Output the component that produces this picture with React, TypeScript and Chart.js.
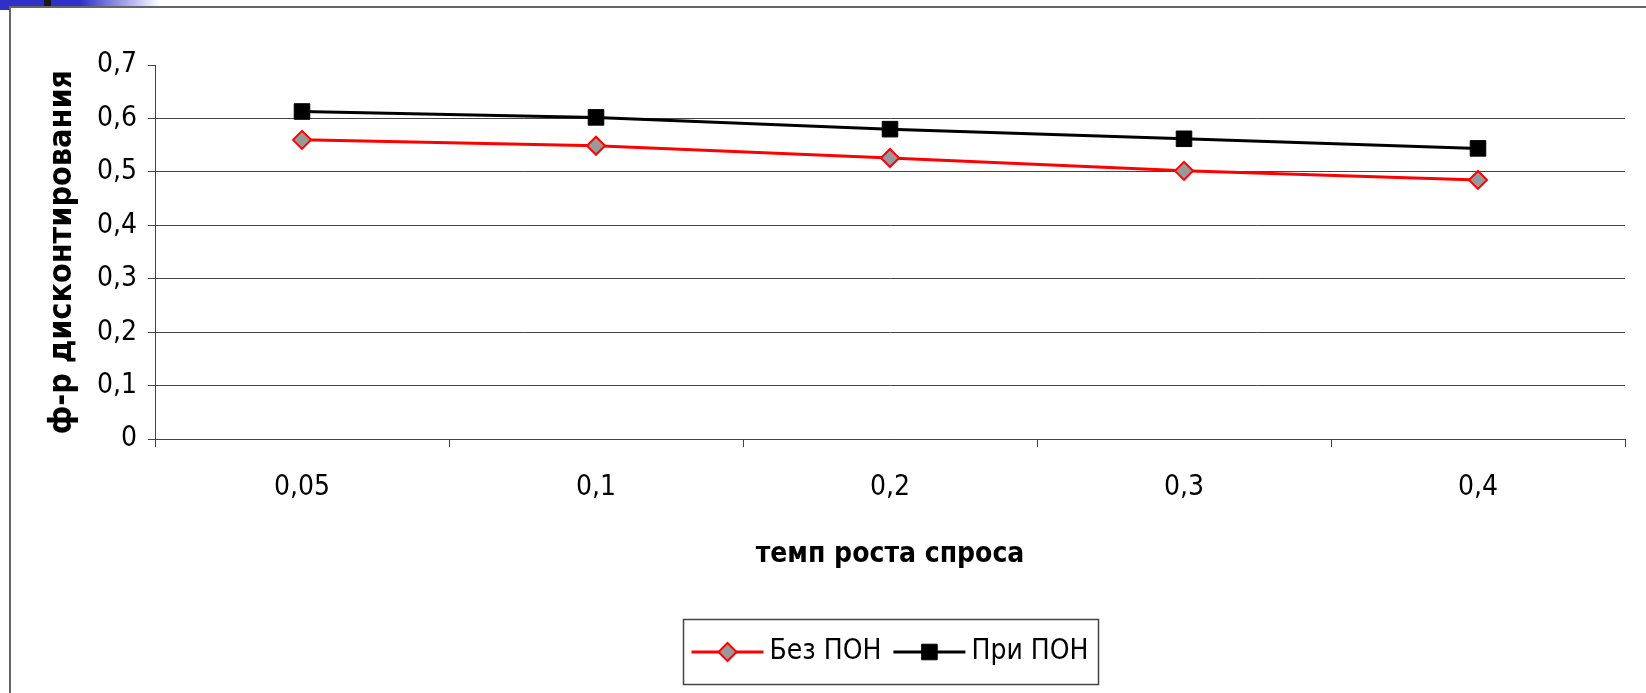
import React, { useEffect, useRef } from 'react';
import { Chart, registerables } from 'chart.js';
import { drawPoint } from 'chart.js/helpers';

Chart.register(...registerables);

// ---- data ----
const categories = ['0,05', '0,1', '0,2', '0,3', '0,4'];
const seriesALabel = 'Без ПОН';
const seriesAValues = [0.56, 0.549, 0.526, 0.502, 0.485];
const seriesBLabel = 'При ПОН';
const seriesBValues = [0.613, 0.602, 0.58, 0.562, 0.544];
const yMin = 0;
const yMax = 0.7;
const yStep = 0.1;
const xAxisTitle = 'темп роста спроса';
const yAxisTitle = 'ф-р дисконтирования';

const FONT = '"DejaVu Sans Condensed", "DejaVu Sans", sans-serif';
const AXIS_COLOR = '#444444';

const fmt = (v: number) => String(Math.round(v * 10) / 10).replace('.', ',');

const legendPlugin = {
  id: 'excelLegend',
  afterDraw(chart: any) {
    const ctx = chart.ctx as CanvasRenderingContext2D;
    const area = chart.chartArea;
    const boxTop = chart.height - 74;
    const boxH = 65;
    const cy = boxTop + 33;
    const lineLen = 72;
    const gapAfterLine = 6;
    const itemGap = 12;
    const padX = 9;
    ctx.save();
    ctx.font = `28px ${FONT}`;
    const items = chart.data.datasets.map((ds: any) => ({ ds, w: ctx.measureText(ds.label).width }));
    let total = padX * 2 + itemGap * (items.length - 1);
    items.forEach((it: any) => (total += lineLen + gapAfterLine + it.w));
    const left = (area.left + area.right) / 2 - total / 2;
    ctx.strokeStyle = '#444444';
    ctx.lineWidth = 1.5;
    ctx.strokeRect(Math.round(left) + 0.5, boxTop + 0.5, Math.round(total), boxH);
    let x = left + padX;
    items.forEach((it: any) => {
      const ds = it.ds;
      ctx.strokeStyle = ds.borderColor;
      ctx.lineWidth = ds.borderWidth;
      ctx.beginPath();
      ctx.moveTo(x, cy);
      ctx.lineTo(x + lineLen, cy);
      ctx.stroke();
      ctx.fillStyle = ds.pointBackgroundColor;
      ctx.strokeStyle = ds.pointBorderColor;
      ctx.lineWidth = ds.pointBorderWidth;
      drawPoint(ctx, { pointStyle: ds.pointStyle, radius: ds.pointRadius, rotation: 0, borderWidth: ds.pointBorderWidth } as any, x + lineLen / 2, cy);
      x += lineLen + gapAfterLine;
      ctx.fillStyle = '#000000';
      ctx.textBaseline = 'middle';
      ctx.textAlign = 'left';
      ctx.fillText(ds.label, x, cy);
      x += it.w + itemGap;
    });
    ctx.restore();
  },
};

export default function App() {
  const canvasRef = useRef<HTMLCanvasElement | null>(null);

  useEffect(() => {
    document.body.style.margin = '0';
    const canvas = canvasRef.current!;
    const chart = new Chart(canvas, {
      type: 'line',
      data: {
        labels: categories,
        datasets: [
          {
            label: seriesALabel,
            data: seriesAValues,
            borderColor: '#ff0000',
            borderWidth: 3,
            pointStyle: 'rectRot',
            pointRadius: 9,
            pointHoverRadius: 9,
            pointBackgroundColor: '#999999',
            pointBorderColor: '#ff0000',
            pointBorderWidth: 2,
            tension: 0,
            clip: false,
          } as any,
          {
            label: seriesBLabel,
            data: seriesBValues,
            borderColor: '#000000',
            borderWidth: 3,
            pointStyle: 'rect',
            pointRadius: 11,
            pointHoverRadius: 11,
            pointBackgroundColor: '#000000',
            pointBorderColor: '#000000',
            pointBorderWidth: 1,
            tension: 0,
            clip: false,
          } as any,
        ],
      },
      options: {
        responsive: false,
        animation: false,
        devicePixelRatio: 1,
        layout: { padding: { left: 10, top: 65, right: 21, bottom: 121 } },
        plugins: {
          legend: { display: false },
          tooltip: { enabled: false },
          title: { display: false },
        },
        scales: {
          x: {
            type: 'category',
            offset: true,
            grid: {
              offset: true,
              drawOnChartArea: false,
              drawTicks: true,
              tickLength: 8,
              color: AXIS_COLOR,
              tickColor: AXIS_COLOR,
              lineWidth: 1,
            },
            border: { display: true, color: AXIS_COLOR, width: 1 },
            ticks: {
              color: '#000000',
              font: { family: FONT, size: 28 },
              padding: 24,
              maxRotation: 0,
              autoSkip: false,
            },
            title: {
              display: true,
              text: xAxisTitle,
              color: '#000000',
              font: { family: FONT, size: 28, weight: 'bold' },
              padding: { top: 0, bottom: 0 },
            },
            afterFit(scale: any) {
              scale.height = 132.8;
              scale.paddingLeft = 0;
              scale.paddingRight = 0;
            },
          },
          y: {
            min: yMin,
            max: yMax,
            grid: {
              drawTicks: true,
              tickLength: 7,
              lineWidth: 1,
              color: (c: any) => (c.tick && Math.abs(c.tick.value - yMax) < 1e-9 ? 'rgba(0,0,0,0)' : AXIS_COLOR),
              tickColor: AXIS_COLOR,
            },
            border: { display: true, color: AXIS_COLOR, width: 1 },
            ticks: {
              stepSize: yStep,
              color: '#000000',
              font: { family: FONT, size: 28 },
              padding: 11,
              callback: (v: any) => fmt(Number(v)),
            },
            title: {
              display: true,
              text: yAxisTitle,
              color: '#000000',
              font: { family: FONT, size: 32, weight: 'bold' },
              padding: { top: 33, bottom: 0 },
            },
            afterFit(scale: any) {
              scale.width = 145;
              scale.paddingTop = 0;
              scale.paddingBottom = 0;
            },
          },
        },
      },
      plugins: [legendPlugin],
    });
    return () => chart.destroy();
  }, []);

  return (
    <div style={{ position: 'fixed', left: 0, top: 0, width: 1646, height: 693, background: '#ffffff', overflow: 'hidden' }}>
      <canvas ref={canvasRef} width={1646} height={693} style={{ position: 'absolute', left: 0, top: 0, width: 1646, height: 693, display: 'block' }} />
      <div style={{ position: 'absolute', left: 0, top: 0, width: 160, height: 6, background: 'linear-gradient(to right, #3030c8 0%, #3030c8 50%, #ffffff 100%)' }} />
      <div style={{ position: 'absolute', left: 0, top: 0, width: 10, height: 10, background: '#3030c8' }} />
      <div style={{ position: 'absolute', left: 44, top: 0, width: 7, height: 6, background: '#1a1a1a' }} />
      <div style={{ position: 'absolute', left: 9, top: 6, right: 0, bottom: 0, borderLeft: '2px solid #666666', borderTop: '2px solid #666666', pointerEvents: 'none' }} />
    </div>
  );
}
